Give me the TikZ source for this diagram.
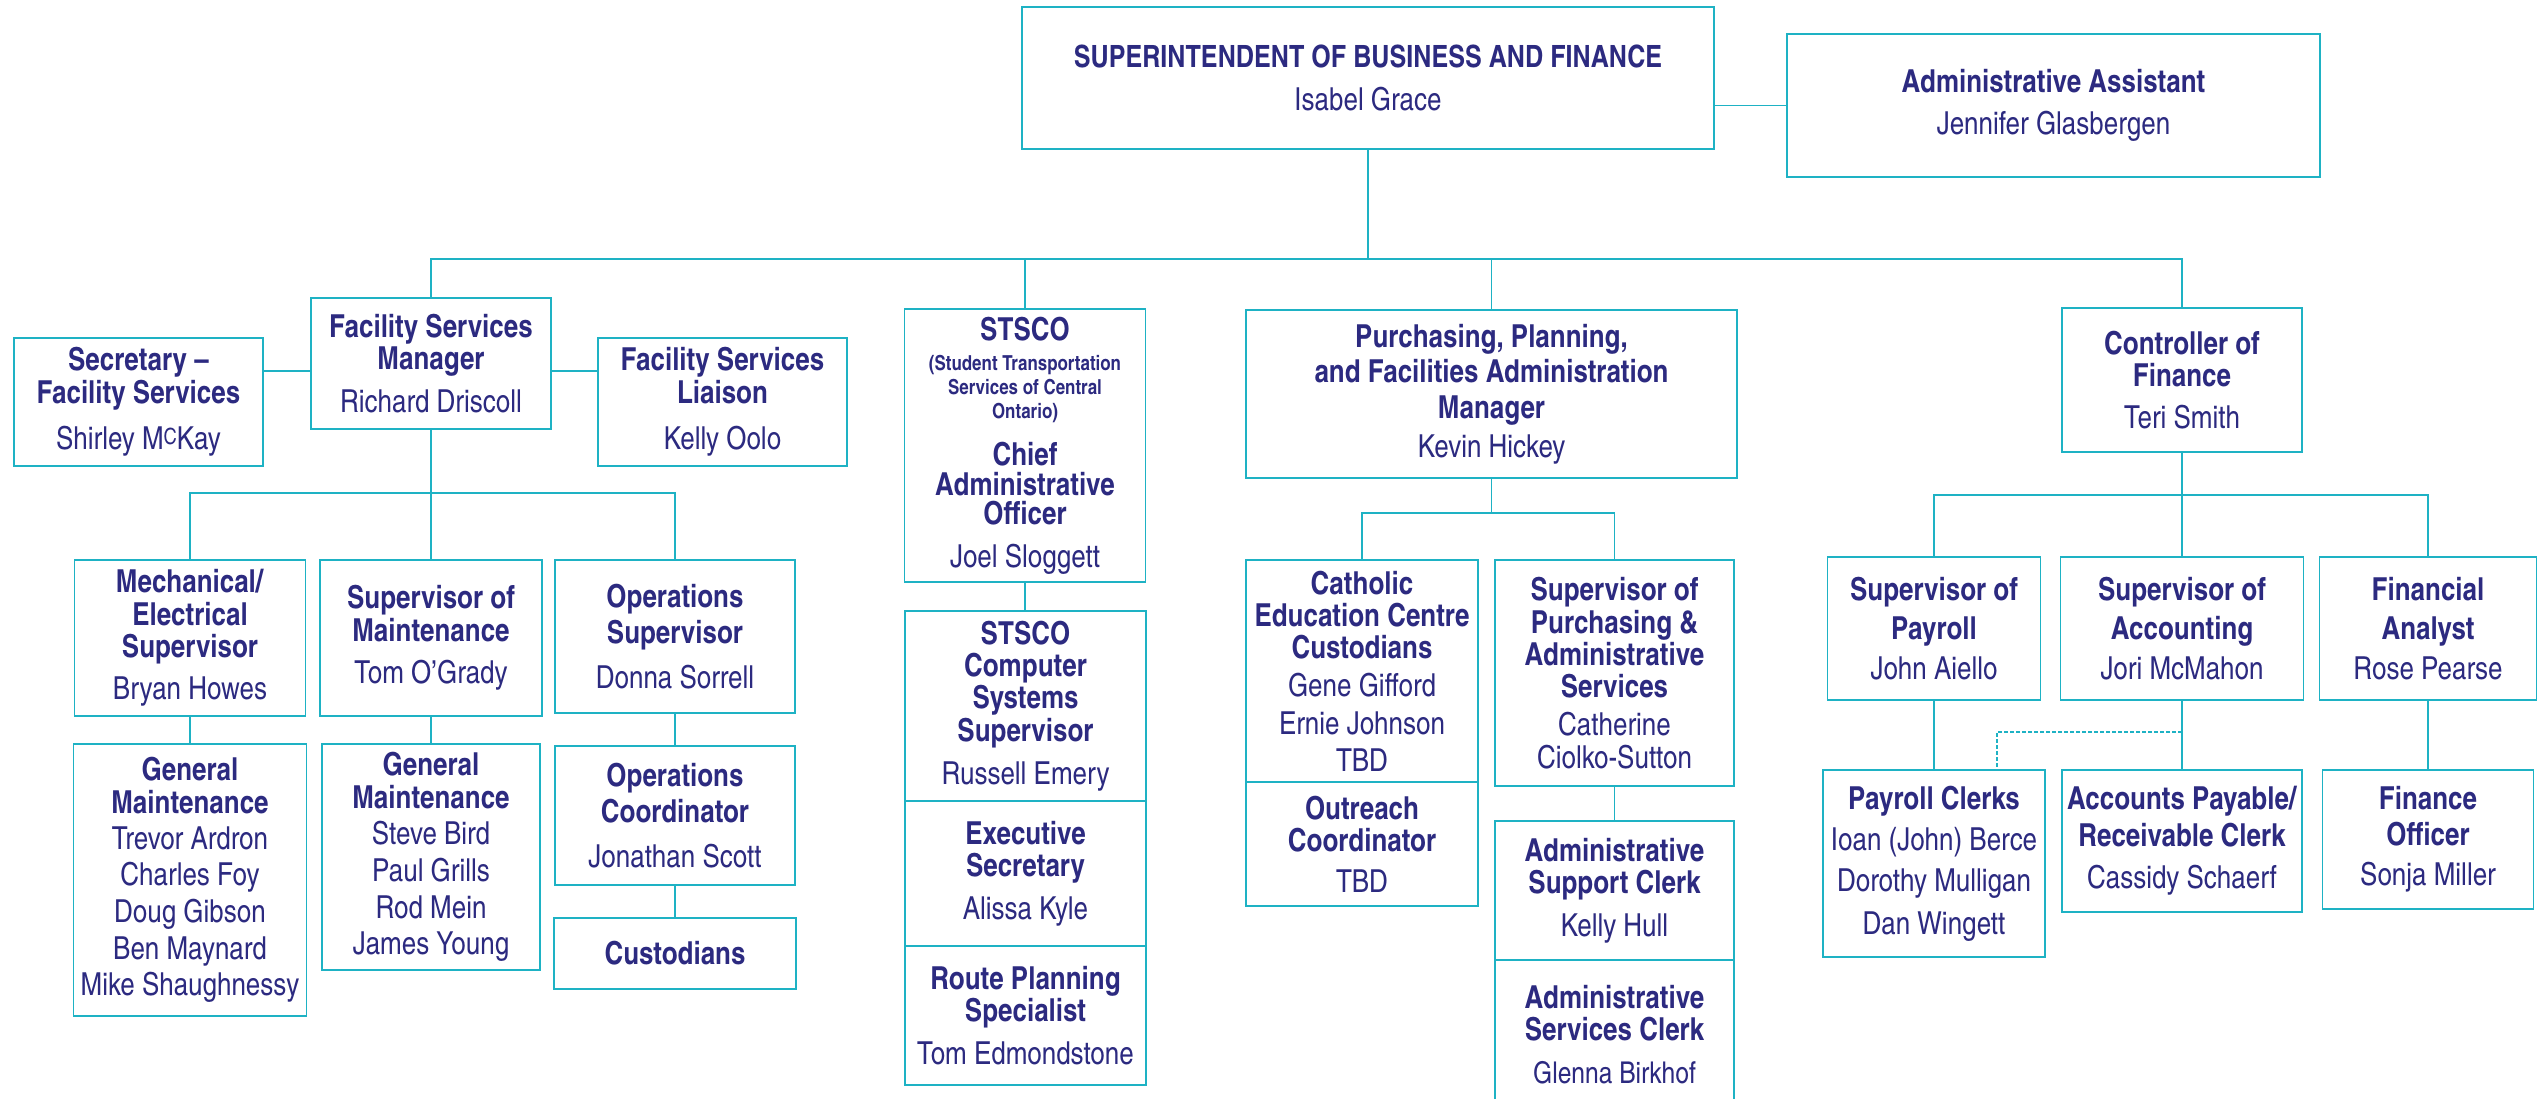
\documentclass[tikz,border=0pt]{standalone}
\usepackage{fontspec}
\setmainfont{texgyreheroscn}[Extension=.otf, UprightFont=*-regular, BoldFont=*-bold, ItalicFont=*-italic, BoldItalicFont=*-bolditalic]
\definecolor{ocline}{RGB}{30,178,196}
\definecolor{octext}{RGB}{44,42,128}

\tikzset{
  every picture/.append style={x=0.3pt, y=-0.3pt},
  box/.style n args={2}{draw=ocline, line width=0.5pt, minimum width=#1*0.3pt, minimum height=#2*0.3pt,
    inner sep=0pt, align=center, text=octext, font=\fontsize{9.5}{9.7}\selectfont},
  link/.style={draw=ocline, line width=0.45pt},
  dotlink/.style={draw=ocline, line width=0.35pt, dash pattern=on 1.2pt off 0.6pt},
}

\begin{document}
\begin{tikzpicture}
  \useasboundingbox (0,0) rectangle (2548,1099);

  \node[box={692}{142}] (sup) at(1368,78){\textbf{\fontsize{9.2}{9.7}\selectfont SUPERINTENDENT OF BUSINESS AND FINANCE}\\[3pt]Isabel Grace};
  \node[box={533}{143}] (aa) at(2053.5,105.5){\textbf{Administrative Assistant}\\[2.7pt]Jennifer Glasbergen};

  \node[box={240}{131}] (fsm) at(431,363.5){\textbf{Facility Services}\\\textbf{Manager}\\[3pt]Richard Driscoll};
  \node[box={249}{128}] (sec) at(138.5,402){\textbf{Secretary –}\\\textbf{Facility Services}\\[4.2pt]Shirley M\raisebox{0.3ex}{\fontsize{6.7}{7}\selectfont C}Kay};
  \node[box={249}{128}] (lia) at(722.5,402){\textbf{Facility Services}\\\textbf{Liaison}\\[4.2pt]Kelly Oolo};

  \node[box={231}{156}] (mech) at(190,638){\textbf{Mechanical/}\\\textbf{Electrical}\\\textbf{Supervisor}\\[3pt]Bryan Howes};
  \node[box={222}{156}] (som) at(431,638){\textbf{Supervisor of}\\\textbf{Maintenance}\\[3pt]Tom O’Grady};
  \node[box={240}{153}] (ops) at(675,636.5){\textbf{Operations}\\[1.2pt]\textbf{Supervisor}\\[3.8pt]Donna Sorrell};
  \node[box={233}{272}] (gm1) at(190,880){\textbf{General}\\\textbf{Maintenance}\\[1.1pt]Trevor Ardron\\[1.3pt]Charles Foy\\[1.3pt]Doug Gibson\\[1.3pt]Ben Maynard\\[1.3pt]Mike Shaughnessy};
  \node[box={218}{226}] (gm2) at(431,857){\textbf{General}\\\textbf{Maintenance}\\[1.3pt]Steve Bird\\[1.3pt]Paul Grills\\[1.3pt]Rod Mein\\[1.3pt]James Young};
  \node[box={240}{139}] (opc) at(675,815.5){\textbf{Operations}\\[1.2pt]\textbf{Coordinator}\\[3.8pt]Jonathan Scott};
  \node[box={242}{71}] (cus) at(675,953.5){\textbf{Custodians}};

  \node[box={241}{273}] (stsco) at(1025,445.5){\textbf{STSCO}\\[-0.7pt]{\fontsize{6.2}{7}\selectfont\textbf{(Student Transportation}}\\[-2.5pt]{\fontsize{6.2}{7}\selectfont\textbf{Services of Central}}\\[-2.5pt]{\fontsize{6.2}{7}\selectfont\textbf{Ontario)}}\\[4.4pt]\textbf{Chief}\\[-0.7pt]\textbf{Administrative}\\[-1pt]\textbf{Officer}\\[3.2pt]Joel Sloggett};
  \node[box={241}{190}] (csys) at(1025.5,706){\textbf{STSCO}\\\textbf{Computer}\\\textbf{Systems}\\\textbf{Supervisor}\\[3.2pt]Russell Emery};
  \node[box={241}{145}] (exs) at(1025.5,873.5){\textbf{Executive}\\\textbf{Secretary}\\[3.2pt]Alissa Kyle};
  \node[box={241}{139}] (rps) at(1025.5,1015.5){\textbf{Route Planning}\\\textbf{Specialist}\\[3.2pt]Tom Edmondstone};

  \node[box={491}{168}] (pur) at(1491.5,394){\textbf{Purchasing, Planning,}\\[1pt]\textbf{and Facilities Administration}\\[1pt]\textbf{Manager}\\[2pt]Kevin Hickey};
  \node[box={232}{222}] (cat) at(1362,671){\textbf{Catholic}\\\textbf{Education Centre}\\\textbf{Custodians}\\[1.7pt]Gene Gifford\\[1.7pt]Ernie Johnson\\[1.2pt]TBD};
  \node[box={232}{124}] (out) at(1362,844){\textbf{Outreach}\\\textbf{Coordinator}\\[2.6pt]TBD};
  \node[box={239}{226}] (spas) at(1614.5,673){\textbf{Supervisor of}\\\textbf{Purchasing \&}\\\textbf{Administrative}\\\textbf{Services}\\[1.7pt]Catherine\\Ciolko-Sutton};
  \node[box={239}{139}] (asup) at(1614.5,890.5){\textbf{Administrative}\\\textbf{Support Clerk}\\[3.2pt]Kelly Hull};
  \node[box={239}{150}] (aser) at(1614.5,1035){\textbf{Administrative}\\\textbf{Services Clerk}\\[3.2pt]{\fontsize{9}{9}\selectfont Glenna Birkhof}};

  \node[box={240}{144}] (ctl) at(2182,380){\textbf{Controller of}\\\textbf{Finance}\\[2.9pt]Teri Smith};
  \node[box={213}{143}] (spay) at(1934,628.5){\textbf{Supervisor of}\\[2pt]\textbf{Payroll}\\[2.3pt]John Aiello};
  \node[box={243}{143}] (sacc) at(2182,628.5){\textbf{Supervisor of}\\[2pt]\textbf{Accounting}\\[2.3pt]Jori McMahon};
  \node[box={217}{143}] (fan) at(2428,628.5){\textbf{Financial}\\[2pt]\textbf{Analyst}\\[2.3pt]Rose Pearse};
  \node[box={222}{187}] (pcl) at(1934,863.5){\textbf{Payroll Clerks}\\[2.6pt]Ioan (John) Berce\\[2.6pt]Dorothy Mulligan\\[3.2pt]Dan Wingett};
  \node[box={240}{142}] (apr) at(2182,841){\textbf{Accounts Payable/}\\[1.4pt]\textbf{Receivable Clerk}\\[2.9pt]Cassidy Schaerf};
  \node[box={211}{139}] (fof) at(2428,839.5){\textbf{Finance}\\[1.1pt]\textbf{Officer}\\[2.3pt]Sonja Miller};

  \coordinate (bus) at(0,259);
  \coordinate (side) at(0,371);
  \coordinate (fbus) at(0,493);
  \coordinate (pbus) at(0,513);
  \coordinate (cbus) at(0,495);
  \coordinate (dl) at(1997,732);

  \draw[link] (aa.west) -- (aa.west -| sup.east);
  \draw[link] (sup.south) -- (sup.south |- bus);
  \draw[link] (fsm.north) |- (ctl.north |- bus) -- (ctl.north);
  \draw[link] (stsco.north) -- (stsco.north |- bus);
  \draw[link] (pur.north) -- (pur.north |- bus);

  \draw[link] (sec.east |- side) -- (fsm.west |- side);
  \draw[link] (fsm.east |- side) -- (lia.west |- side);
  \draw[link] (fsm.south) -- (som.north);
  \draw[link] (mech.north) |- (ops.north |- fbus) -- (ops.north);
  \draw[link] (mech.south) -- (gm1.north);
  \draw[link] (som.south) -- (gm2.north);
  \draw[link] (ops.south) -- (opc.north);
  \draw[link] (opc.south) -- (cus.north);

  \draw[link] (stsco.south) -- (csys.north -| stsco.south);

  \draw[link] (pur.south) -- (pur.south |- pbus);
  \draw[link] (cat.north) |- (spas.north |- pbus) -- (spas.north);
  \draw[link] (spas.south) -- (asup.north);

  \draw[link] (ctl.south) -- (ctl.south |- cbus);
  \draw[link] (spay.north) |- (fan.north |- cbus) -- (fan.north);
  \draw[link] (sacc.north) -- (sacc.north |- cbus);
  \draw[link] (spay.south) -- (pcl.north);
  \draw[link] (sacc.south) -- (apr.north);
  \draw[link] (fan.south) -- (fof.north);
  \draw[dotlink] (sacc.south |- dl) -| (pcl.north -| dl);
\end{tikzpicture}
\end{document}
